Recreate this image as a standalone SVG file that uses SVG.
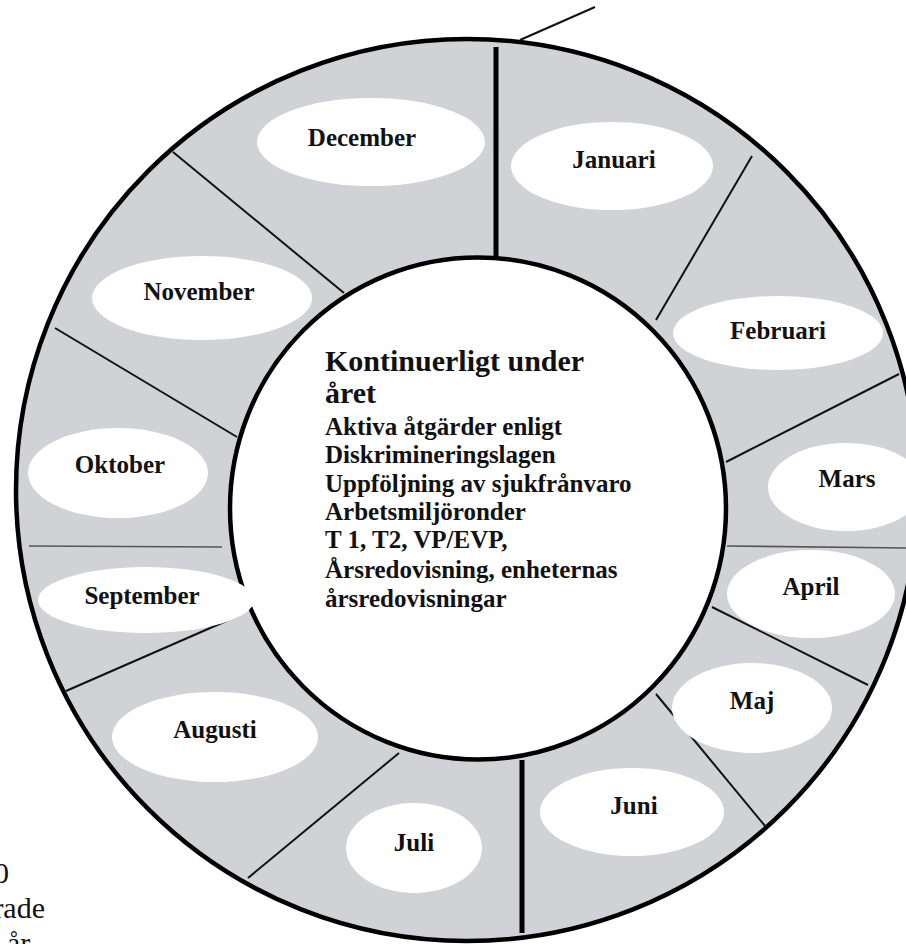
<svg xmlns="http://www.w3.org/2000/svg" width="906" height="944" viewBox="0 0 906 944">
  <defs>
    <style>
      .ring { fill: #d0d2d6; stroke: #000; stroke-width: 4.5; }
      .hub { fill: #fff; stroke: #000; stroke-width: 4.5; }
      .div { stroke: #111; stroke-width: 2; fill: none; }
      .thick { stroke: #000; stroke-width: 5; }
      .faint { stroke: #555; stroke-width: 1.6; }
      .oval { fill: #fff; }
      .mon { font-family: "Liberation Serif", "Times New Roman", serif; font-weight: bold; font-size: 25px; fill: #111; text-anchor: middle; }
      .ttl { font-family: "Liberation Serif", "Times New Roman", serif; font-weight: bold; font-size: 30px; fill: #111; }
      .body { font-family: "Liberation Serif", "Times New Roman", serif; font-weight: bold; font-size: 25px; fill: #111; }
      .frag { font-family: "Liberation Serif", "Times New Roman", serif; font-size: 30px; fill: #111; }
    </style>
  </defs>
  <rect width="906" height="944" fill="#fff"/>

  <g id="wheel">
    <circle class="ring" cx="467" cy="490" r="451"/>
    <ellipse class="hub" cx="478" cy="508.5" rx="248" ry="251"/>
  </g>

  <g id="connectors">
    <line class="div" x1="520" y1="40" x2="595" y2="7"/>
    <line class="div thick" x1="496" y1="47" x2="496" y2="258"/>
    <line class="div" x1="752" y1="156" x2="656" y2="320"/>
    <line class="div" x1="899" y1="374" x2="726" y2="462"/>
    <line class="div faint" x1="727" y1="546" x2="906" y2="548"/>
    <line class="div" x1="712" y1="607" x2="868" y2="685"/>
    <line class="div" x1="656" y1="694" x2="765" y2="826"/>
    <line class="div thick" x1="522" y1="760" x2="522" y2="933"/>
    <line class="div" x1="399" y1="753" x2="248" y2="878"/>
    <line class="div" x1="240" y1="615" x2="66" y2="691"/>
    <line class="div faint" x1="29" y1="546" x2="222" y2="547"/>
    <line class="div" x1="55" y1="328" x2="237" y2="437"/>
    <line class="div" x1="173" y1="152" x2="344" y2="293"/>
  </g>

  <g id="december"><ellipse class="oval" cx="371" cy="142" rx="114" ry="44"/><text class="mon" x="362" y="146">December</text></g>
  <g id="januari"><ellipse class="oval" cx="612" cy="166" rx="101" ry="44"/><text class="mon" x="614" y="168">Januari</text></g>
  <g id="februari"><ellipse class="oval" cx="778" cy="333" rx="105" ry="37"/><text class="mon" x="778" y="339">Februari</text></g>
  <g id="mars"><ellipse class="oval" cx="846" cy="487" rx="78" ry="44"/><text class="mon" x="847" y="487">Mars</text></g>
  <g id="april"><ellipse class="oval" cx="811" cy="594" rx="84" ry="44"/><text class="mon" x="811" y="595">April</text></g>
  <g id="maj"><ellipse class="oval" cx="752" cy="708" rx="80" ry="45"/><text class="mon" x="752" y="709">Maj</text></g>
  <g id="juni"><ellipse class="oval" cx="632" cy="812" rx="92" ry="44"/><text class="mon" x="634" y="814">Juni</text></g>
  <g id="juli"><ellipse class="oval" cx="414" cy="848" rx="68" ry="45"/><text class="mon" x="414" y="851">Juli</text></g>
  <g id="augusti"><ellipse class="oval" cx="215" cy="737" rx="103" ry="45"/><text class="mon" x="215" y="738">Augusti</text></g>
  <g id="september"><ellipse class="oval" cx="146" cy="600" rx="108" ry="33"/><text class="mon" x="142" y="604">September</text></g>
  <g id="oktober"><ellipse class="oval" cx="118" cy="473" rx="90" ry="45"/><text class="mon" x="120" y="473">Oktober</text></g>
  <g id="november"><ellipse class="oval" cx="202" cy="298" rx="110" ry="42"/><text class="mon" x="199" y="300">November</text></g>

  <g id="center">
    <text class="ttl" x="325" y="371">Kontinuerligt under</text>
    <text class="ttl" x="325" y="403">året</text>
    <text class="body" x="325" y="435">Aktiva åtgärder enligt</text>
    <text class="body" x="325" y="463">Diskrimineringslagen</text>
    <text class="body" x="325" y="492">Uppföljning av sjukfrånvaro</text>
    <text class="body" x="325" y="520">Arbetsmiljöronder</text>
    <text class="body" x="325" y="548">T 1, T2, VP/EVP,</text>
    <text class="body" x="325" y="578">Årsredovisning, enheternas</text>
    <text class="body" x="325" y="607">årsredovisningar</text>
  </g>

  <g id="margin-text">
    <text class="frag" x="9" y="883" text-anchor="end">0</text>
    <text class="frag" x="45" y="918" text-anchor="end">rade</text>
    <text class="frag" x="7" y="953">år</text>
  </g>
</svg>
